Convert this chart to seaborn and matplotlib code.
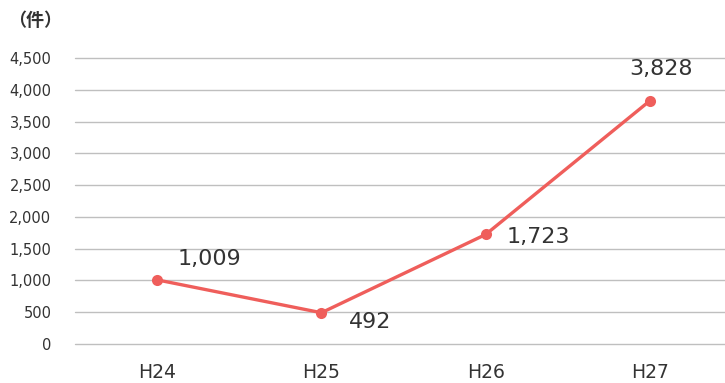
import matplotlib
matplotlib.use("Agg")
import matplotlib.pyplot as plt
import seaborn as sns
import pandas as pd

categories = ["H24", "H25", "H26", "H27"]
values = [1009, 492, 1723, 3828]
value_labels = ["1,009", "492", "1,723", "3,828"]
y_ticks = [0, 500, 1000, 1500, 2000, 2500, 3000, 3500, 4000, 4500]
y_tick_labels = ["0", "500", "1,000", "1,500", "2,000", "2,500", "3,000", "3,500", "4,000", "4,500"]
unit_label = "（件）"

sns.set_theme(style="white")
plt.rcParams['font.family'] = ['DejaVu Sans', 'Noto Sans CJK JP']

df = pd.DataFrame({"year": categories, "count": values})

fig = plt.figure(figsize=(7.25, 3.83), dpi=100)
ax = fig.add_axes([75/725, 39/383, 1 - 75/725, 286/383])

color = "#EF5E5B"
sns.lineplot(data=df, x="year", y="count", ax=ax, color=color, linewidth=2.4,
             marker="o", markersize=8, markeredgewidth=0, sort=False)

ax.set_ylim(0, 4500)
ax.set_xlim(-0.5, 3.457)
ax.set_yticks(y_ticks)
ax.set_yticklabels(y_tick_labels, fontsize=10.5, color="#333333")
ax.set_xticks(range(len(categories)))
ax.set_xticklabels(categories, fontsize=13.5, color="#333333")
ax.tick_params(axis="y", length=0, pad=17)
ax.tick_params(axis="x", length=0, pad=14)
ax.set_xlabel("")
ax.set_ylabel("")
for s in ax.spines.values():
    s.set_visible(False)
for yt in y_ticks:
    ax.axhline(yt, color="#BFBFBF", linewidth=1.0, zorder=0, clip_on=False)

offsets = [(38, 15), (35, -7), (38, -2), (8, 23)]
for i, (v, lab) in enumerate(zip(values, value_labels)):
    ax.annotate(lab, (i, v), xytext=offsets[i], textcoords="offset points",
                ha="center", va="center", fontsize=16, color="#333333")

fig.text(8/725, 1 - 20/383, unit_label, fontsize=13, color="#333333",
         ha="left", va="center", fontweight="bold",
         family=['Noto Sans CJK JP', 'DejaVu Sans'])

fig.savefig("out.png", dpi=100)
